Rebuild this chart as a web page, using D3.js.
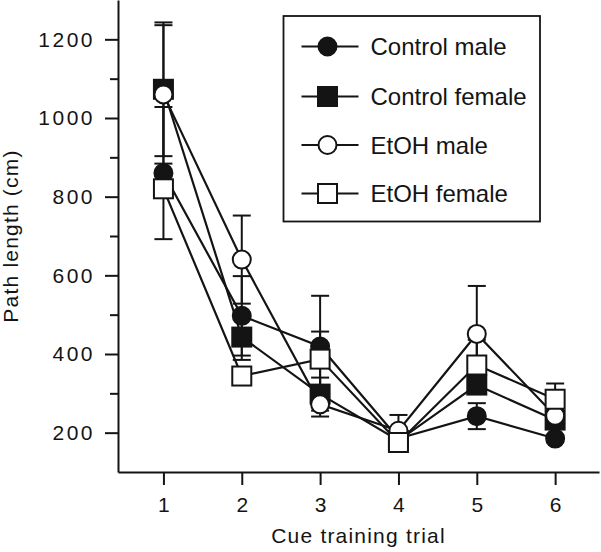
<!DOCTYPE html>
<html>
<head>
<meta charset="utf-8">
<script src="https://cdn.jsdelivr.net/npm/d3@7/dist/d3.min.js"></script>
<style>
  html, body { margin: 0; padding: 0; background: #fff; }
  svg { display: block; }
  text { font-family: "Liberation Sans", Arial, Helvetica, sans-serif; fill: #141414; }
</style>
</head>
<body>
<svg id="chart" width="601" height="552"></svg>
<script>
// ---- data ----
const trials = [1, 2, 3, 4, 5, 6];
const seriesNames = ["Control male", "Control female", "EtOH male", "EtOH female"];
const seriesShapes = ["circle", "square", "circle", "square"];
const seriesFilled = [true, true, false, false];
const controlMale   = [860, 497, 419, 185, 242, 185];
const controlFemale = [1073, 443, 298, 180, 321, 232];
const etohMale      = [1060, 640, 272, 205, 451, 243];
const etohFemale    = [820, 344, 387, 175, 372, 285];
const errControlMale   = [168, 101, 129, 15, 33, 10];
const errControlFemale = [170, 58, 42, 15, 15, 15];
const errEtohMale      = [176, 112, 31, 40, 122, 15];
const errEtohFemale    = [20, 15, 70, 15, 64, 40];
const yTicks = [200, 400, 600, 800, 1000, 1200];
const yMinorTicks = [300, 500, 700, 900, 1100];
const xLabel = "Cue training trial";
const yLabel = "Path length (cm)";

const values = [controlMale, controlFemale, etohMale, etohFemale];
const errors = [errControlMale, errControlFemale, errEtohMale, errEtohFemale];

const ink = "#141414";
const svg = d3.select("#chart");

const x = d3.scaleLinear().domain([0.42, 6.56]).range([118, 599]);
const y = d3.scaleLinear().domain([100, 1300]).range([472, 0]);

// ---- axes ----
const yAxis = svg.append("g").attr("transform", "translate(118,0)")
  .call(d3.axisLeft(y).tickValues(yTicks).tickSize(13).tickSizeOuter(0).tickPadding(10).tickFormat(d3.format("d")));
yAxis.select(".domain").attr("stroke", ink).attr("stroke-width", 2);
yAxis.selectAll(".tick line").attr("stroke", ink).attr("stroke-width", 2);
yAxis.selectAll(".tick text").attr("font-size", 21).attr("letter-spacing", "2.5px").attr("fill", ink)
  .attr("font-family", "Liberation Sans, Arial, sans-serif");

const yMinor = svg.append("g").attr("transform", "translate(118,0)")
  .call(d3.axisLeft(y).tickValues(yMinorTicks).tickSize(8).tickSizeOuter(0).tickFormat(""));
yMinor.select(".domain").remove();
yMinor.selectAll(".tick line").attr("stroke", ink).attr("stroke-width", 2);

const xAxis = svg.append("g").attr("transform", "translate(0,472)")
  .call(d3.axisBottom(x).tickValues(trials).tickSize(13).tickSizeOuter(0).tickPadding(12).tickFormat(d3.format("d")));
xAxis.select(".domain").attr("stroke", ink).attr("stroke-width", 2);
xAxis.selectAll(".tick line").attr("stroke", ink).attr("stroke-width", 2);
xAxis.selectAll(".tick text").attr("font-size", 21).attr("fill", ink)
  .attr("font-family", "Liberation Sans, Arial, sans-serif");

svg.append("text")
  .attr("x", (x.range()[0] + x.range()[1]) / 2).attr("y", 543)
  .attr("text-anchor", "middle").attr("font-size", 21).attr("letter-spacing", "1.2px")
  .text(xLabel);

svg.append("text")
  .attr("transform", `translate(18,${(y.range()[0] + y.range()[1]) / 2}) rotate(-90)`)
  .attr("text-anchor", "middle").attr("font-size", 21).attr("letter-spacing", "1.2px")
  .text(yLabel);

// ---- error bars ----
const capW = 18;
values.forEach((vals, s) => {
  const g = svg.append("g").attr("stroke", ink).attr("stroke-width", 2);
  vals.forEach((v, i) => {
    const e = errors[s][i];
    const cx = x(trials[i]);
    g.append("line").attr("x1", cx).attr("x2", cx).attr("y1", y(v + e)).attr("y2", y(v - e));
    g.append("line").attr("x1", cx - capW / 2).attr("x2", cx + capW / 2).attr("y1", y(v + e)).attr("y2", y(v + e));
    g.append("line").attr("x1", cx - capW / 2).attr("x2", cx + capW / 2).attr("y1", y(v - e)).attr("y2", y(v - e));
  });
});

// ---- lines ----
const line = d3.line().x((d, i) => x(trials[i])).y(d => y(d));
values.forEach(vals => {
  svg.append("path").datum(vals).attr("d", line)
    .attr("fill", "none").attr("stroke", ink).attr("stroke-width", 2.2);
});

// ---- markers ----
function marker(g, shape, filled, cx, cy) {
  if (shape === "circle") {
    g.append("circle").attr("cx", cx).attr("cy", cy).attr("r", 9)
      .attr("fill", filled ? ink : "#fff").attr("stroke", ink).attr("stroke-width", 2);
  } else {
    g.append("rect").attr("x", cx - 9.5).attr("y", cy - 9.5).attr("width", 19).attr("height", 19)
      .attr("fill", filled ? ink : "#fff").attr("stroke", ink).attr("stroke-width", 2);
  }
}
values.forEach((vals, s) => {
  const g = svg.append("g");
  vals.forEach((v, i) => marker(g, seriesShapes[s], seriesFilled[s], x(trials[i]), y(v)));
});

// ---- legend ----
const lg = svg.append("g");
lg.append("rect").attr("x", 283.5).attr("y", 16).attr("width", 256.5).attr("height", 205.5)
  .attr("fill", "#fff").attr("stroke", ink).attr("stroke-width", 1.8);
const rowY = [46.5, 96.5, 145, 193.5];
seriesNames.forEach((name, s) => {
  const ry = rowY[s];
  lg.append("line").attr("x1", 301.5).attr("x2", 358.5).attr("y1", ry).attr("y2", ry)
    .attr("stroke", ink).attr("stroke-width", 2.2);
  marker(lg, seriesShapes[s], seriesFilled[s], 327.5, ry);
  lg.append("text").attr("x", 370.5).attr("y", ry + 8.5).attr("font-size", 24).text(name);
});
</script>
</body>
</html>
